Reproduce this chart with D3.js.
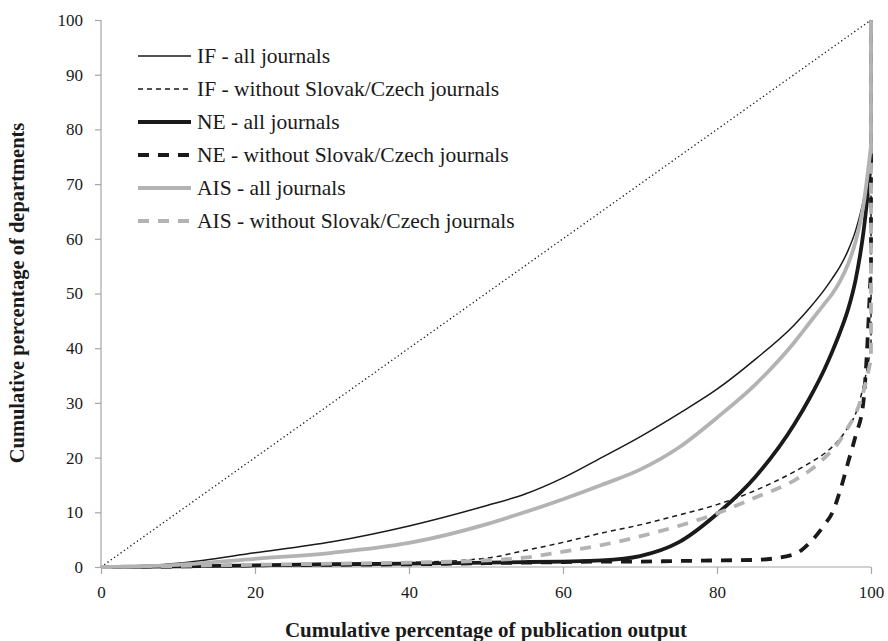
<!DOCTYPE html>
<html>
<head>
<meta charset="utf-8">
<script src="https://cdn.jsdelivr.net/npm/d3@7"></script>
<style>
  body { margin: 0; background: #fff; }
</style>
</head>
<body>
<script>
var serif = "'Liberation Serif', 'Times New Roman', Times, serif";

// cumulative percentage of publication output (shared x values)
var xs = [0, 10, 20, 30, 40, 50, 55, 60, 65, 70, 75, 80, 85, 90, 92, 94, 95, 96, 97, 98, 99, 100];

// cumulative percentage of departments, one array per series
var ifAll     = [0, 0.7, 2.6, 4.6, 7.5, 11.2, 13.3, 16.3, 20.0, 23.8, 28.0, 32.5, 38.0, 44.2, 47.3, 50.8, 52.8, 55.0, 57.8, 61.5, 67, 76];
var ifWithout = [0, 0.1, 0.3, 0.5, 0.8, 1.6, 3.0, 4.5, 6.2, 7.7, 9.5, 11.4, 14.0, 17.4, 19.0, 20.8, 22, 23.5, 25.5, 28, 33, 40];
var neAll     = [0, 0.1, 0.3, 0.5, 0.6, 0.8, 0.9, 1.0, 1.2, 2.0, 4.5, 9.7, 16.5, 26.0, 30.8, 36.3, 39.5, 43.0, 47.0, 52.5, 61, 74];
var neWithout = [0, 0.1, 0.3, 0.4, 0.5, 0.7, 0.8, 0.9, 1.0, 1.0, 1.1, 1.2, 1.3, 2.3, 4.4, 7.8, 10.0, 14.0, 19.0, 24.0, 30.0, 55];
var aisAll    = [0, 0.4, 1.5, 2.6, 4.4, 7.8, 10, 12.4, 15.0, 17.8, 21.8, 27.3, 33.4, 41.0, 44.6, 48.2, 50.0, 52.3, 55.3, 59.5, 66, 77];
var aisWithout= [0, 0.2, 0.4, 0.6, 0.8, 1.2, 1.7, 2.8, 4.0, 5.6, 7.5, 9.8, 12.7, 15.8, 17.6, 20.0, 21.4, 23.2, 25.5, 28, 32, 38];

var seriesNames = ["IF - all journals", "IF - without Slovak/Czech journals",
                   "NE - all journals", "NE - without Slovak/Czech journals",
                   "AIS - all journals", "AIS - without Slovak/Czech journals"];
var seriesValues = [ifAll, ifWithout, neAll, neWithout, aisAll, aisWithout];

var xTicks = [0, 20, 40, 60, 80, 100];
var yTicks = [0, 10, 20, 30, 40, 50, 60, 70, 80, 90, 100];

var styles = [
    { color: "#1a1a1a", width: 1.5, dash: null },
    { color: "#1a1a1a", width: 1.5, dash: "5,4" },
    { color: "#1a1a1a", width: 3.8, dash: null },
    { color: "#1a1a1a", width: 3.8, dash: "11,9" },
    { color: "#b3b3b3", width: 3.8, dash: null },
    { color: "#b3b3b3", width: 3.8, dash: "11,9" }
];

var width = 888, height = 641;
var svg = d3.select("body").append("svg")
    .attr("width", width).attr("height", height);

var x = d3.scaleLinear().domain([0, 100]).range([101, 871]);
var y = d3.scaleLinear().domain([0, 100]).range([567, 20]);

// axes
var xAxis = svg.append("g")
    .attr("transform", "translate(0," + y(0) + ")")
    .call(d3.axisBottom(x).tickValues(xTicks).tickSize(7).tickPadding(12));
var yAxis = svg.append("g")
    .attr("transform", "translate(" + x(0) + ",0)")
    .call(d3.axisLeft(y).tickValues(yTicks).tickSize(6).tickPadding(12));

[xAxis, yAxis].forEach(function(g) {
    g.attr("font-family", serif).attr("font-size", 17);
    g.selectAll("path, line").attr("stroke", "#a6a6a6").attr("stroke-width", 1.2);
    g.selectAll("text").attr("fill", "#1a1a1a");
});
xAxis.select(".domain").attr("d", "M" + x(0) + ",0H" + x(100));
yAxis.select(".domain").attr("d", "M0," + y(0) + "V" + y(100));

// equality line
svg.append("path")
    .attr("d", d3.line()([[x(0), y(0)], [x(100), y(100)]]))
    .attr("fill", "none")
    .attr("stroke", "#1a1a1a")
    .attr("stroke-width", 1.3)
    .attr("stroke-dasharray", "1.3,2.7");

var line = d3.line()
    .x(function(d) { return x(d[0]); })
    .y(function(d) { return y(d[1]); })
    .curve(d3.curveMonotoneX);

seriesValues.forEach(function(vals, i) {
    var pts = xs.map(function(v, j) { return [v, vals[j]]; });
    svg.append("path")
        .attr("d", line(pts) + "V" + y(100))
        .attr("fill", "none")
        .attr("stroke", styles[i].color)
        .attr("stroke-width", styles[i].width)
        .attr("stroke-dasharray", styles[i].dash);
});

// legend
var legend = svg.selectAll(".legend")
    .data(seriesNames)
    .enter()
    .append("g")
    .attr("transform", function(d, i) { return "translate(138," + (56 + i * 33) + ")"; });

legend.append("line")
    .attr("x1", 0).attr("x2", 53)
    .attr("stroke", function(d, i) { return styles[i].color; })
    .attr("stroke-width", function(d, i) { return styles[i].width; })
    .attr("stroke-dasharray", function(d, i) { return styles[i].dash; });

legend.append("text")
    .attr("x", 59).attr("y", 7)
    .attr("font-family", serif)
    .attr("font-size", 21.5)
    .attr("fill", "#1a1a1a")
    .text(function(d) { return d; });

// axis titles
svg.append("text")
    .attr("x", 486).attr("y", 637)
    .attr("text-anchor", "middle")
    .attr("font-family", serif)
    .attr("font-size", 21)
    .attr("font-weight", "bold")
    .attr("fill", "#1a1a1a")
    .text("Cumulative percentage of publication output");

svg.append("text")
    .attr("transform", "translate(24,293) rotate(-90)")
    .attr("text-anchor", "middle")
    .attr("font-family", serif)
    .attr("font-size", 20.5)
    .attr("font-weight", "bold")
    .attr("fill", "#1a1a1a")
    .text("Cumulative percentage of departments");
</script>
</body>
</html>
